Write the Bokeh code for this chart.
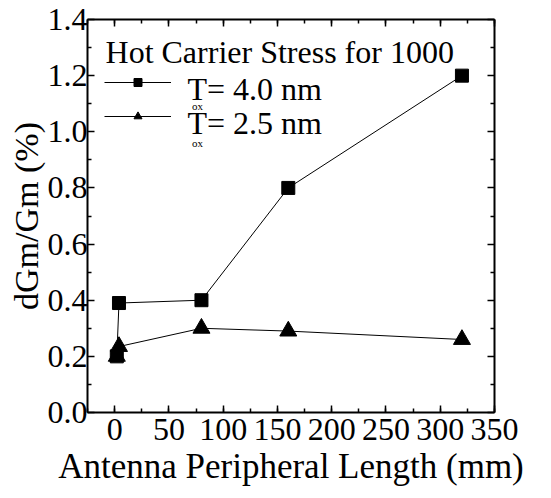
from bokeh.plotting import figure
from bokeh.models import (LinearAxis, SingleIntervalTicker, FixedTicker, PrintfTickFormatter,
                          Legend, LegendItem, Range1d, Label, CustomJSTickFormatter)
from bokeh.embed import file_html
from bokeh.resources import INLINE

# data
sq_x = [2, 4, 80, 160, 320]
sq_y = [0.20, 0.39, 0.40, 0.80, 1.20]
tri_x = [2, 4, 80, 160, 320]
tri_y = [0.20, 0.235, 0.30, 0.29, 0.26]
y_ticks = [0.0, 0.2, 0.4, 0.6, 0.8, 1.0, 1.2, 1.4]
y_minor = [0.1, 0.3, 0.5, 0.7, 0.9, 1.1, 1.3]
legend_title = "Hot Carrier Stress for 1000"
title_pos = (-8.4, 1.286)
label_sq = "T= 4.0 nm"
label_tri = "T= 2.5 nm"
label_x = 67.1
label_y = [1.154, 1.030]
sub_text = "ox"
sub_x = [76.4, 76.4]
sub_y = [1.112, 0.982]
x_label = "Antenna Peripheral Length (mm)"
y_label = "dGm/Gm (%)"

FONT = "Liberation Serif"

p = figure(width=544, height=498, output_backend="svg", toolbar_location=None,
           x_range=Range1d(-25, 350), y_range=Range1d(0, 1.4),
           min_border_left=87, min_border_right=50, min_border_top=19,
           min_border_bottom=86)
p.outline_line_color = None
p.grid.visible = False
p.background_fill_color = "white"

bottom = p.below[0]
left = p.left[0]

l_sq = p.line(sq_x, sq_y, line_color="black", line_width=1)
m_sq = p.scatter(sq_x, sq_y, marker="square", size=13, fill_color="black", line_color="black")
l_tri = p.line(tri_x, tri_y, line_color="black", line_width=1)
m_tri = p.scatter(tri_x, tri_y, marker="triangle", size=17, fill_color="black", line_color="black")

bottom.ticker = SingleIntervalTicker(interval=50, num_minor_ticks=2)
left.ticker = FixedTicker(ticks=y_ticks, minor_ticks=y_minor)
left.formatter = PrintfTickFormatter(format="%.1f")

blank = CustomJSTickFormatter(code="return ''")
top = LinearAxis(ticker=SingleIntervalTicker(interval=50, num_minor_ticks=2),
                 formatter=blank)
right = LinearAxis(ticker=FixedTicker(ticks=y_ticks, minor_ticks=y_minor),
                   formatter=blank)
p.add_layout(top, "above")
p.add_layout(right, "right")

for ax in [bottom, left, top, right]:
    ax.axis_line_width = 2
    ax.axis_line_color = "black"
    ax.major_tick_in = 7
    ax.major_tick_out = 0
    ax.minor_tick_in = 4
    ax.minor_tick_out = 0
    ax.major_tick_line_width = 1.5
    ax.minor_tick_line_width = 1.5
    ax.major_tick_line_color = "black"
    ax.minor_tick_line_color = "black"
top.major_label_standoff = 0
right.major_label_standoff = 0

for ax in [bottom, left]:
    ax.major_label_text_font = FONT
    ax.major_label_text_font_size = "32px"
    ax.major_label_text_color = "black"
    ax.axis_label_text_font = FONT
    ax.axis_label_text_font_style = "normal"
    ax.axis_label_text_color = "black"
bottom.axis_label_text_font_size = "35px"
left.axis_label_text_font_size = "34px"

bottom.axis_label = x_label
left.axis_label = y_label
bottom.major_label_standoff = 6
left.major_label_standoff = 0
bottom.axis_label_standoff = 4
left.axis_label_standoff = 0

# legend draws the line+marker keys; its labels are drawn below as text labels
legend = Legend(items=[LegendItem(label=label_sq, renderers=[l_sq, m_sq]),
                       LegendItem(label=label_tri, renderers=[l_tri, m_tri])],
                location=(17, 279))
legend.label_text_font = FONT
legend.label_text_font_size = "30px"
legend.label_text_alpha = 0
legend.border_line_color = None
legend.background_fill_alpha = 0
legend.margin = 0
legend.padding = 0
legend.glyph_width = 67
legend.glyph_height = 20
legend.label_standoff = 16
legend.spacing = 0
p.add_layout(legend)

p.add_layout(Label(x=title_pos[0], y=title_pos[1], text=legend_title, text_font=FONT,
                   text_font_size="32px", text_color="black", text_align="left",
                   text_baseline="alphabetic"))

for txt, yy in zip([label_sq, label_tri], label_y):
    p.add_layout(Label(x=label_x, y=yy, text=txt, text_font=FONT, text_font_size="32px",
                       text_color="black", text_align="left", text_baseline="alphabetic"))

for xx, yy in zip(sub_x, sub_y):
    p.add_layout(Label(x=xx, y=yy, text=sub_text, text_font=FONT, text_font_size="11px",
                       text_color="black", text_align="center", text_baseline="top"))

open("out.html", "w").write(file_html(p, INLINE))
